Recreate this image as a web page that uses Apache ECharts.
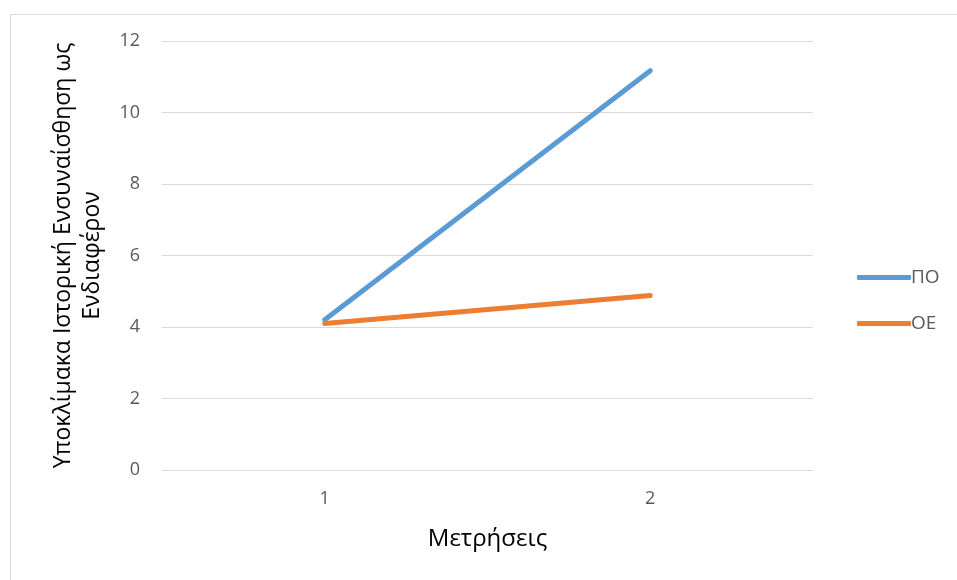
<!DOCTYPE html>
<html>
<head>
<meta charset="utf-8">
<script src="https://cdn.jsdelivr.net/npm/echarts@6/dist/echarts.min.js"></script>
<style>
  html, body { margin: 0; padding: 0; background: #fff; }
  #chart { width: 957px; height: 580px; }
</style>
</head>
<body>
<div id="chart"></div>
<script>
// Measurement rounds on the category axis
const categories = ['1', '2'];
// Series values
const seriesPO = [4.2, 11.17];
const seriesOE = [4.1, 4.88];
// Value axis range
const yMin = 0, yMax = 12, yStep = 2;

const font = '"Open Sans", "Noto Sans", sans-serif';
const chart = echarts.init(document.getElementById('chart'), null, { renderer: 'canvas' });

chart.setOption({
  animation: false,
  backgroundColor: '#ffffff',
  graphic: [{
    type: 'rect',
    left: 8, top: 12,
    shape: { width: 960, height: 580 },
    style: { fill: 'none', stroke: '#d9d9d9', lineWidth: 1 },
    silent: true
  }],
  grid: { left: 162, right: 144, top: 41, bottom: 110, containLabel: false },
  legend: {
    orient: 'vertical',
    left: 852, top: 263,
    itemWidth: 54, itemHeight: 5, itemGap: 27,
    icon: 'roundRect',
    textStyle: { fontFamily: font, fontSize: 19, color: '#595959', padding: [0, 0, 0, -5] },
    data: ['ΠΟ', 'ΟΕ']
  },
  xAxis: {
    type: 'category',
    data: categories,
    boundaryGap: true,
    axisLine: { show: true, lineStyle: { color: '#d9d9d9', width: 1 } },
    axisTick: { show: false },
    axisLabel: { fontFamily: font, fontSize: 18, color: '#595959', margin: 20 },
    name: 'Μετρήσεις',
    nameLocation: 'middle',
    nameGap: 57,
    nameTextStyle: { fontFamily: font, fontSize: 24, color: '#000000' }
  },
  yAxis: {
    type: 'value',
    min: yMin, max: yMax, interval: yStep,
    axisLine: { show: false },
    axisTick: { show: false },
    splitLine: { lineStyle: { color: '#d9d9d9', width: 1 } },
    axisLabel: { fontFamily: font, fontSize: 18, color: '#595959', margin: 22 },
    name: 'Υποκλίμακα Ιστορική Ενσυναίσθηση ως\nΕνδιαφέρον',
    nameLocation: 'middle',
    nameGap: 55,
    nameRotate: 90,
    nameTextStyle: { fontFamily: font, fontSize: 23, color: '#000000', lineHeight: 29, align: 'center' }
  },
  series: [
    {
      name: 'ΠΟ', type: 'line', data: seriesPO,
      symbol: 'none',
      lineStyle: { color: '#5b9bd5', width: 5, cap: 'round' },
      itemStyle: { color: '#5b9bd5' }
    },
    {
      name: 'ΟΕ', type: 'line', data: seriesOE,
      symbol: 'none',
      lineStyle: { color: '#ed7d31', width: 5, cap: 'round' },
      itemStyle: { color: '#ed7d31' }
    }
  ]
});
</script>
</body>
</html>
